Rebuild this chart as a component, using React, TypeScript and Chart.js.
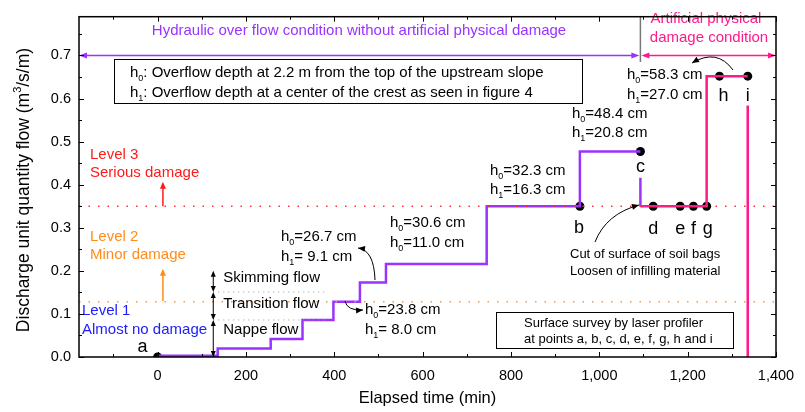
import React, { useEffect, useRef } from 'react';
import { Chart, registerables } from 'chart.js';
Chart.register(...registerables);

const FONT = '"Liberation Sans", Arial, sans-serif';

// purple: hydraulic overflow steps (time in min, flow in m3/s/m)
const stepTimes = [0, 136, 256, 328, 398, 458, 517, 745, 956, 1093];
const stepFlows = [0.003, 0.02, 0.042, 0.086, 0.128, 0.173, 0.216, 0.35, 0.477, 0.477];
const dropTimes = [1093, 1093];
const dropFlows = [0.416, 0.35];
// pink: artificial physical damage condition
const damageTimes = [1093, 1243, 1336];
const damageFlows = [0.35, 0.652, 0.652];
const endTimes = [1336, 1336];
const endFlows = [0.584, 0];
// survey points
const surveyNames = ['a', 'b', 'c', 'd', 'e', 'f', 'g', 'h', 'i'];
const surveyTimes = [0, 956, 1093, 1122, 1183, 1213, 1243, 1272, 1336];
const surveyFlows = [0, 0.35, 0.477, 0.35, 0.35, 0.35, 0.35, 0.652, 0.652];
// axes
const xTickValues = [0, 200, 400, 600, 800, 1000, 1200, 1400];
const yTickValues = [0, 0.1, 0.2, 0.3, 0.4, 0.5, 0.6, 0.7];
// damage levels and flow regimes
const level3Flow = 0.35;
const level2Flow = 0.128;
const regimeBounds = [0, 0.086, 0.151, 0.2];
const regimeNames = ['Nappe flow', 'Transition flow', 'Skimming flow'];

const PURPLE = '#9933ff';
const PINK = '#ff1a8c';

function arrowHead(ctx: CanvasRenderingContext2D, x: number, y: number, ang: number, len = 7, half = 3) {
  ctx.save();
  ctx.translate(x, y);
  ctx.rotate(ang);
  ctx.beginPath();
  ctx.moveTo(0, 0);
  ctx.lineTo(-len, -half);
  ctx.lineTo(-len, half);
  ctx.closePath();
  ctx.fill();
  ctx.restore();
}

function curveArrow(ctx: CanvasRenderingContext2D, x0: number, y0: number, cx: number, cy: number, x1: number, y1: number) {
  ctx.beginPath();
  ctx.moveTo(x0, y0);
  ctx.quadraticCurveTo(cx, cy, x1, y1);
  ctx.stroke();
  arrowHead(ctx, x1, y1, Math.atan2(y1 - cy, x1 - cx), 7, 3);
}

function hLabel(ctx: CanvasRenderingContext2D, x: number, y: number, sub: string, rest: string) {
  ctx.textAlign = 'left';
  ctx.textBaseline = 'middle';
  ctx.font = `15px ${FONT}`;
  ctx.fillText('h', x, y);
  const w = ctx.measureText('h').width;
  ctx.font = `9px ${FONT}`;
  ctx.fillText(sub, x + w, y + 6);
  const w2 = ctx.measureText(sub).width;
  ctx.font = `15px ${FONT}`;
  ctx.fillText(rest, x + w + w2, y);
}

const overlay = {
  id: 'overlay',
  afterDatasetsDraw(chart: any) {
    const { ctx, chartArea: ca, scales } = chart;
    const xs = scales.x;
    const ys = scales.y;
    const X = (v: number) => xs.getPixelForValue(v);
    const Y = (v: number) => ys.getPixelForValue(v);
    ctx.save();

    // dotted level lines
    ctx.lineWidth = 1.5;
    ctx.setLineDash([1.5, 8]);
    ctx.strokeStyle = '#ff3030';
    ctx.beginPath();
    ctx.moveTo(ca.left, Y(level3Flow));
    ctx.lineTo(ca.right, Y(level3Flow));
    ctx.stroke();
    ctx.strokeStyle = '#ff9933';
    ctx.beginPath();
    ctx.moveTo(ca.left, Y(level2Flow));
    ctx.lineTo(ca.right, Y(level2Flow));
    ctx.stroke();
    ctx.strokeStyle = '#9a9a9a';
    ctx.lineWidth = 1;
    ctx.setLineDash([1, 4]);
    [regimeBounds[1], regimeBounds[2]].forEach((v) => {
      ctx.beginPath();
      ctx.moveTo(X(126), Y(v));
      ctx.lineTo(X(386), Y(v));
      ctx.stroke();
    });
    ctx.setLineDash([]);

    // level arrows
    ctx.lineWidth = 1.5;
    ctx.strokeStyle = '#ff1a1a';
    ctx.fillStyle = '#ff1a1a';
    ctx.beginPath();
    ctx.moveTo(X(12), Y(level3Flow));
    ctx.lineTo(X(12), Y(0.407) + 4);
    ctx.stroke();
    arrowHead(ctx, X(12), Y(0.407), -Math.PI / 2, 7, 3);
    ctx.strokeStyle = '#ff8c1a';
    ctx.fillStyle = '#ff8c1a';
    ctx.beginPath();
    ctx.moveTo(X(12), Y(0.13));
    ctx.lineTo(X(12), Y(0.205) + 4);
    ctx.stroke();
    arrowHead(ctx, X(12), Y(0.205), -Math.PI / 2, 7, 3);

    // regime arrows
    ctx.strokeStyle = '#000';
    ctx.fillStyle = '#000';
    ctx.lineWidth = 1;
    for (let i = 0; i < 3; i++) {
      const y0 = Y(regimeBounds[i]);
      const y1 = Y(regimeBounds[i + 1]);
      ctx.beginPath();
      ctx.moveTo(X(126), y0 - 4);
      ctx.lineTo(X(126), y1 + 4);
      ctx.stroke();
      arrowHead(ctx, X(126), y1, -Math.PI / 2, 6, 2.5);
      arrowHead(ctx, X(126), y0, Math.PI / 2, 6, 2.5);
    }
    ctx.font = `15px ${FONT}`;
    ctx.textAlign = 'left';
    ctx.textBaseline = 'middle';
    ctx.fillText(regimeNames[2], X(126) + 10, 278);
    ctx.fillText(regimeNames[1], X(126) + 10, 304);
    ctx.fillText(regimeNames[0], X(126) + 10, 330);

    // level texts
    ctx.fillStyle = '#ff1a1a';
    ctx.fillText('Level 3', 90, 155);
    ctx.fillText('Serious damage', 90, 173);
    ctx.fillStyle = '#ff8c1a';
    ctx.fillText('Level 2', 90, 237);
    ctx.fillText('Minor damage', 90, 255);
    ctx.fillStyle = '#2020ff';
    ctx.fillText('Level 1', 82, 311);
    ctx.fillText('Almost no damage', 82, 330);

    // condition arrows
    const yA = Y(0.7);
    const xd = X(1093);
    ctx.lineWidth = 1.5;
    ctx.strokeStyle = PURPLE;
    ctx.fillStyle = PURPLE;
    ctx.beginPath();
    ctx.moveTo(ca.left + 5, yA);
    ctx.lineTo(xd - 5, yA);
    ctx.stroke();
    arrowHead(ctx, ca.left, yA, Math.PI, 8, 3);
    arrowHead(ctx, xd - 1, yA, 0, 8, 3);
    ctx.font = `15px ${FONT}`;
    ctx.textAlign = 'center';
    ctx.fillText('Hydraulic over flow condition without artificial physical damage', 359, 31);
    ctx.strokeStyle = PINK;
    ctx.fillStyle = PINK;
    ctx.beginPath();
    ctx.moveTo(xd + 5, yA);
    ctx.lineTo(ca.right - 5, yA);
    ctx.stroke();
    arrowHead(ctx, xd + 1, yA, Math.PI, 8, 3);
    arrowHead(ctx, ca.right, yA, 0, 8, 3);
    ctx.fillText('Artificial physical', 706, 19);
    ctx.fillText('damage condition', 709, 38);
    ctx.strokeStyle = '#777';
    ctx.lineWidth = 1.5;
    ctx.beginPath();
    ctx.moveTo(xd, ca.top);
    ctx.lineTo(xd, 62);
    ctx.stroke();

    // definition box
    ctx.fillStyle = '#fff';
    ctx.fillRect(114, 59, 468, 44);
    ctx.strokeStyle = '#000';
    ctx.lineWidth = 1;
    ctx.strokeRect(114.5, 59.5, 468, 44);
    ctx.fillStyle = '#000';
    hLabel(ctx, 130, 73, '0', ': Overflow depth at 2.2 m from the top of the upstream slope');
    hLabel(ctx, 130, 93, '1', ': Overflow depth at a center of the crest as seen in figure 4');

    // survey box
    ctx.fillStyle = '#fff';
    ctx.fillRect(496, 312, 237, 36);
    ctx.strokeRect(496.5, 312.5, 237, 36);
    ctx.fillStyle = '#000';
    ctx.font = `13px ${FONT}`;
    ctx.textAlign = 'left';
    ctx.fillText('Surface survey by laser profiler', 524, 323);
    ctx.fillText('at points a, b, c, d, e, f, g, h and i', 524, 339);
    ctx.fillText('Cut of surface of soil bags', 570, 254);
    ctx.fillText('Loosen of infilling material', 570, 271);

    // overflow depth labels
    hLabel(ctx, 281, 237, '0', '=26.7 cm');
    hLabel(ctx, 281, 257, '1', '= 9.1 cm');
    hLabel(ctx, 365, 310, '0', '=23.8 cm');
    hLabel(ctx, 365, 330, '1', '= 8.0 cm');
    hLabel(ctx, 390, 223, '0', '=30.6 cm');
    hLabel(ctx, 390, 243, '0', '=11.0 cm');
    hLabel(ctx, 490, 171, '0', '=32.3 cm');
    hLabel(ctx, 490, 190, '1', '=16.3 cm');
    hLabel(ctx, 572, 114, '0', '=48.4 cm');
    hLabel(ctx, 572, 133, '1', '=20.8 cm');
    hLabel(ctx, 627, 75, '0', '=58.3 cm');
    hLabel(ctx, 627, 95, '1', '=27.0 cm');

    // curved arrows
    ctx.strokeStyle = '#000';
    ctx.fillStyle = '#000';
    ctx.lineWidth = 1;
    curveArrow(ctx, 375, 280, 374, 250, 358, 248);
    curveArrow(ctx, 345, 301, 347, 311, 363, 310);
    curveArrow(ctx, 595, 242, 606, 214, 639, 205);
    curveArrow(ctx, 733, 70, 717, 48, 692, 63);

    // point labels
    const offsets: Record<string, [number, number]> = {
      a: [-15, -10], b: [-1, 22], c: [0, 16], d: [0, 23], e: [0, 23], f: [0, 23], g: [1, 23], h: [4, 20], i: [0, 20],
    };
    ctx.font = `18px ${FONT}`;
    ctx.textAlign = 'center';
    ctx.textBaseline = 'middle';
    surveyNames.forEach((n, k) => {
      const o = offsets[n];
      ctx.fillText(n, X(surveyTimes[k]) + o[0], Y(surveyFlows[k]) + o[1]);
    });

    // axis titles
    ctx.font = `16.5px ${FONT}`;
    ctx.fillText('Elapsed time (min)', (ca.left + ca.right) / 2, 398);
    ctx.save();
    ctx.translate(24, 190);
    ctx.rotate(-Math.PI / 2);
    const TF = `17.5px ${FONT}`;
    const SF = `11px ${FONT}`;
    const p1 = 'Discharge unit quantity flow (m';
    const p2 = '3';
    const p3 = '/s/m)';
    ctx.font = TF;
    const w1 = ctx.measureText(p1).width;
    const w3 = ctx.measureText(p3).width;
    ctx.font = SF;
    const w2 = ctx.measureText(p2).width;
    const tot = w1 + w2 + w3;
    ctx.textAlign = 'left';
    ctx.font = TF;
    ctx.fillText(p1, -tot / 2, 0);
    ctx.font = SF;
    ctx.fillText(p2, -tot / 2 + w1, -6);
    ctx.font = TF;
    ctx.fillText(p3, -tot / 2 + w1 + w2, 0);
    ctx.restore();

    // frame and inward ticks
    ctx.strokeStyle = '#000';
    ctx.lineWidth = 1.5;
    ctx.strokeRect(ca.left, ca.top, ca.right - ca.left, ca.bottom - ca.top);
    ctx.lineWidth = 1;
    for (let v = -100; v <= 1400; v += 100) {
      const px = Math.round(X(v)) + 0.5;
      const len = v % 200 === 0 ? 5 : 3;
      ctx.beginPath();
      ctx.moveTo(px, ca.bottom);
      ctx.lineTo(px, ca.bottom - len);
      ctx.moveTo(px, ca.top);
      ctx.lineTo(px, ca.top + len);
      ctx.stroke();
    }
    for (let k = 0; k <= 15; k++) {
      const v = k * 0.05;
      const py = Math.round(Y(v)) + 0.5;
      const len = k % 2 === 0 ? 5 : 3;
      ctx.beginPath();
      ctx.moveTo(ca.left, py);
      ctx.lineTo(ca.left + len, py);
      ctx.moveTo(ca.right, py);
      ctx.lineTo(ca.right - len, py);
      ctx.stroke();
    }
    ctx.restore();
  },
};

export default function App() {
  const ref = useRef<HTMLCanvasElement>(null);
  useEffect(() => {
    if (!ref.current) return;
    const pts = (ts: number[], vs: number[]) => ts.map((t, i) => ({ x: t, y: vs[i] }));
    const chart = new Chart(ref.current, {
      type: 'line',
      data: {
        datasets: [
          { data: pts(stepTimes, stepFlows), borderColor: PURPLE, borderWidth: 2.5, stepped: 'before', pointRadius: 0, fill: false },
          { data: pts(dropTimes, dropFlows), borderColor: PURPLE, borderWidth: 2.5, pointRadius: 0, fill: false },
          { data: pts(damageTimes, damageFlows), borderColor: PINK, borderWidth: 2.5, stepped: 'before', pointRadius: 0, fill: false },
          { data: pts(endTimes, endFlows), borderColor: PINK, borderWidth: 2.5, pointRadius: 0, fill: false },
          { data: pts(surveyTimes, surveyFlows), showLine: false, pointRadius: 4.5, pointBackgroundColor: '#000', pointBorderColor: '#000', pointBorderWidth: 0 },
        ],
      } as any,
      options: {
        animation: false,
        responsive: false,
        maintainAspectRatio: false,
        layout: { padding: { top: 10, right: 29, left: 0, bottom: 0 } },
        plugins: { legend: { display: false }, tooltip: { enabled: false } },
        scales: {
          x: {
            type: 'linear',
            min: -178,
            max: 1400,
            grid: { display: false, drawTicks: false },
            border: { display: false },
            afterBuildTicks: (s: any) => { s.ticks = xTickValues.map((v) => ({ value: v })); },
            afterFit: (s: any) => { s.height = 55; },
            ticks: {
              padding: 10,
              color: '#000',
              font: { family: FONT, size: 14.5 },
              maxRotation: 0,
              autoSkip: false,
              callback: (v: any) => Number(v).toLocaleString('en-US'),
            },
          },
          y: {
            type: 'linear',
            min: 0,
            max: 0.79,
            grid: { display: false, drawTicks: false },
            border: { display: false },
            afterBuildTicks: (s: any) => { s.ticks = yTickValues.map((v) => ({ value: v })); },
            afterFit: (s: any) => { s.width = 79; },
            ticks: {
              padding: 8,
              color: '#000',
              font: { family: FONT, size: 14.5 },
              autoSkip: false,
              callback: (v: any) => Number(v).toFixed(1),
            },
          },
        },
      } as any,
      plugins: [overlay],
    });
    return () => chart.destroy();
  }, []);
  return (
    <div style={{ position: 'fixed', left: 0, top: 0, width: 805, height: 412, background: '#fff' }}>
      <canvas ref={ref} width={805} height={412} style={{ display: 'block' }} />
    </div>
  );
}
